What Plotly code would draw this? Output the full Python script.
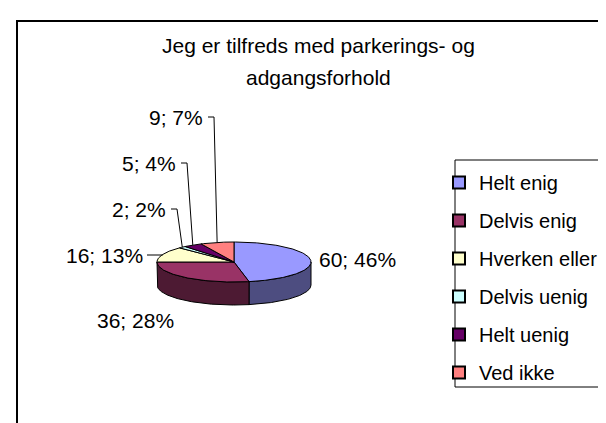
import numpy as np
import plotly.graph_objects as go

# ---- data ----
categories = ["Helt enig", "Delvis enig", "Hverken eller", "Delvis uenig", "Helt uenig", "Ved ikke"]
counts = [60, 36, 16, 2, 5, 9]
label_texts = ["60; 46%", "36; 28%", "16; 13%", "2; 2%", "5; 4%", "9; 7%"]
title_lines = ["Jeg er tilfreds med parkerings- og", "adgangsforhold"]

# ---- style ----
top_colors = ["#9999FF", "#993366", "#FFFFCC", "#CCFFFF", "#660066", "#FF8080"]
side_colors = ["#4D4D80", "#4D1A33", "#80806A", "#6A8080", "#330033", "#804040"]
FONT = "Liberation Sans, Arial, sans-serif"
FS = 21
FS_LEG = 20

W, H = 606, 423
cx, cy, rx, ry, depth = 226.0, 254.0, 77.0, 20.0, 23.0

# label placement (layout): (anchor x, y, xanchor, leader?)
label_layout = [
    (309, 251, "left", False),
    (168, 312, "right", False),
    (137, 247, "right", True),
    (160, 201, "right", True),
    (170, 155, "right", True),
    (197, 109, "right", True),
]

def pt(theta_deg, dy=0.0):
    t = np.radians(theta_deg)
    return cx + rx * np.cos(t), cy - ry * np.sin(t) + dy

total = float(sum(counts))
angles = []
start = 90.0
for v in counts:
    sweep = 360.0 * v / total
    angles.append((start, start - sweep))
    start -= sweep

fig = go.Figure()

# side walls (front half: theta in [-180, 0])
for i, (a0, a1) in enumerate(angles):
    lo, hi = max(a1, -180.0), min(a0, 0.0)
    if hi - lo <= 0.01:
        continue
    th = np.linspace(hi, lo, 80)
    xs_t, ys_t = pt(th)
    xs_b, ys_b = pt(th[::-1], depth)
    xs = np.concatenate([xs_t, xs_b, xs_t[:1]])
    ys = np.concatenate([ys_t, ys_b, ys_t[:1]])
    fig.add_trace(go.Scatter(x=xs, y=ys, mode="lines", fill="toself",
                             fillcolor=side_colors[i], line=dict(color="black", width=1),
                             hoverinfo="skip", showlegend=False))

# top faces
for i, (a0, a1) in enumerate(angles):
    n = max(int(abs(a0 - a1)) + 2, 4)
    th = np.linspace(a0, a1, n)
    xs_a, ys_a = pt(th)
    xs = np.concatenate([[cx], xs_a, [cx]])
    ys = np.concatenate([[cy], ys_a, [cy]])
    fig.add_trace(go.Scatter(x=xs, y=ys, mode="lines", fill="toself",
                             fillcolor=top_colors[i], line=dict(color="black", width=1),
                             hoverinfo="skip", showlegend=False))

# labels and leader lines
annotations = []
for i, (a0, a1) in enumerate(angles):
    lx, ly, anc, leader = label_layout[i]
    annotations.append(dict(x=lx, y=ly, xref="x", yref="y", text=label_texts[i],
                            showarrow=False, xanchor=anc, yanchor="middle",
                            font=dict(family=FONT, size=FS, color="black")))
    if leader:
        ex, ey = pt((a0 + a1) / 2.0)
        if abs(ey - ly) < 4:
            xs_l, ys_l = [lx + 2, ex], [ly, ly]
        else:
            xs_l, ys_l = [lx + 3, lx + 9, ex], [ly, ly, ey]
        fig.add_trace(go.Scatter(x=xs_l, y=ys_l, mode="lines",
                                 line=dict(color="black", width=1), hoverinfo="skip",
                                 showlegend=False))

annotations.append(dict(x=310, y=37, xref="x", yref="y", text=title_lines[0], showarrow=False,
                        xanchor="center", yanchor="middle",
                        font=dict(family=FONT, size=FS, color="black")))
annotations.append(dict(x=310, y=69, xref="x", yref="y", text=title_lines[1], showarrow=False,
                        xanchor="center", yanchor="middle",
                        font=dict(family=FONT, size=FS, color="black")))

# legend entries
for i, c in enumerate(categories):
    fig.add_trace(go.Scatter(x=[None], y=[None], mode="markers", name=c,
                             legendgroup=c,
                             marker=dict(symbol="square", size=11, color=top_colors[i],
                                         line=dict(color="black", width=1))))

LEG_L, LEG_T, LEG_B = 447, 152, 379

fig.update_layout(
    width=W, height=H, autosize=False,
    margin=dict(l=0, r=0, t=0, b=0),
    paper_bgcolor="white", plot_bgcolor="white",
    xaxis=dict(range=[0, W], visible=False, fixedrange=True),
    yaxis=dict(range=[H, 0], visible=False, fixedrange=True),
    annotations=annotations,
    shapes=[
        dict(type="rect", xref="x", yref="y", x0=9, y0=13, x1=W + 20, y1=H + 20,
             line=dict(color="black", width=2), fillcolor="rgba(0,0,0,0)", layer="below"),
        dict(type="rect", xref="x", yref="y", x0=LEG_L, y0=LEG_T, x1=W + 20, y1=LEG_B,
             line=dict(color="black", width=1), fillcolor="white", layer="below"),
    ],
    showlegend=True,
    legend=dict(x=(LEG_L - 16) / W, y=1 - (LEG_T + 3) / H, xanchor="left", yanchor="top",
                bgcolor="rgba(0,0,0,0)", borderwidth=0,
                font=dict(family=FONT, size=FS_LEG, color="black"),
                tracegroupgap=9, itemsizing="constant"),
)

fig.write_html("out.html")
